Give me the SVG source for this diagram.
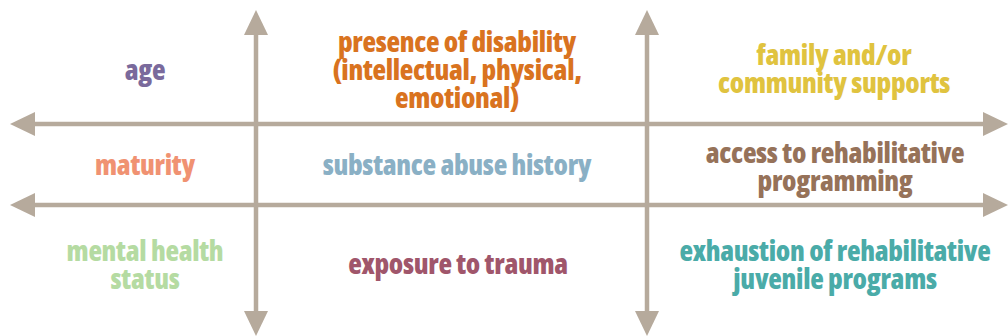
<svg xmlns="http://www.w3.org/2000/svg" width="1008" height="336" viewBox="0 0 1008 336">
<defs>
<style>
.ax{stroke:#b6aa9c;stroke-width:4.5;fill:none}
.hd{fill:#b6aa9c}
text{font-family:"Open Sans","DejaVu Sans Condensed",sans-serif;font-weight:800;font-stretch:85%;font-size:28px;text-anchor:middle;letter-spacing:-0.3px}
</style>
</defs>
<rect width="1008" height="336" fill="#ffffff"/>
<g id="connectors">
<line class="ax" x1="256" y1="30" x2="256" y2="316"/>
<polygon class="hd" points="256,10 268,35 244,35"/>
<polygon class="hd" points="256,336 268,311 244,311"/>
<line class="ax" x1="647" y1="30" x2="647" y2="316"/>
<polygon class="hd" points="647,10 659,35 635,35"/>
<polygon class="hd" points="647,336 659,311 635,311"/>
<line class="ax" x1="30" y1="124" x2="988" y2="124"/>
<polygon class="hd" points="10,124 35,112 35,136"/>
<polygon class="hd" points="1008,124 983,112 983,136"/>
<line class="ax" x1="30" y1="205" x2="988" y2="205"/>
<polygon class="hd" points="10,205 35,193 35,217"/>
<polygon class="hd" points="1008,205 983,193 983,217"/>
</g>
<g id="age"><text x="145" y="80" fill="#7a6a9c">age</text></g>
<g id="disability"><text x="457" y="52" fill="#d9731f">presence of disability</text><text x="457" y="80" fill="#d9731f">(intellectual, physical,</text><text x="457" y="108" fill="#d9731f">emotional)</text></g>
<g id="family"><text x="834" y="65" fill="#e0c33f">family and/or</text><text x="834" y="93" fill="#e0c33f">community supports</text></g>
<g id="maturity"><text x="145" y="175" fill="#f09272">maturity</text></g>
<g id="substance"><text x="457" y="175" fill="#8ab0c5">substance abuse history</text></g>
<g id="access"><text x="835" y="163" fill="#967259">access to rehabilitative</text><text x="835" y="191" fill="#967259">programming</text></g>
<g id="mental"><text x="145" y="261" fill="#b5dba2">mental health</text><text x="145" y="289" fill="#b5dba2">status</text></g>
<g id="trauma"><text x="458" y="274" fill="#a0566b">exposure to trauma</text></g>
<g id="exhaustion"><text x="835" y="261" fill="#4aaba8">exhaustion of rehabilitative</text><text x="835" y="289" fill="#4aaba8">juvenile programs</text></g>
</svg>
